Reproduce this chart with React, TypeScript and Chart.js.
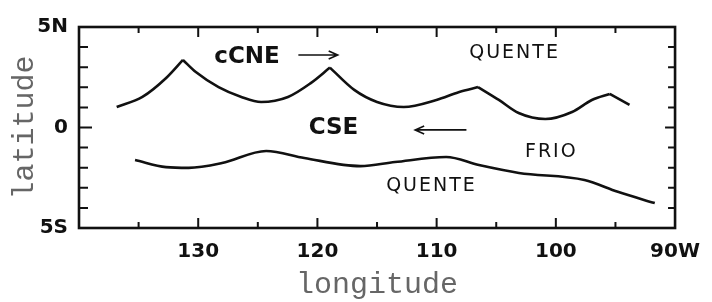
import { useEffect, useRef } from 'react';
import { Chart, registerables } from 'chart.js';

Chart.register(...registerables);

// Upper boundary (cCNE), drawn as scallop arcs that meet at cusps
const cncArc1Lon = [136.84, 134.68, 132.69, 131.28];
const cncArc1Lat = [1.02, 1.52, 2.46, 3.36];
const cncArc2Lon = [131.28, 130.2, 128.29, 126.38, 124.72, 122.47, 120.56, 118.95];
const cncArc2Lat = [3.36, 2.76, 2.01, 1.52, 1.27, 1.52, 2.21, 2.98];
const cncArc3Lon = [118.95, 116.91, 115.0, 112.76, 110.02, 108.1, 106.53];
const cncArc3Lat = [2.98, 1.87, 1.27, 1.02, 1.37, 1.77, 2.01];
const cncArc4Lon = [106.53, 104.78, 103.12, 100.88, 98.64, 96.98, 95.48];
const cncArc4Lat = [2.01, 1.37, 0.72, 0.42, 0.77, 1.37, 1.67];
const cncArc5Lon = [95.48, 93.82];
const cncArc5Lat = [1.67, 1.12];

// Lower boundary (CSE)
const cseLon = [135.3, 132.7, 130.8, 128.0, 124.3, 121.1, 116.4, 113.5, 109.2, 106.45, 103.1, 97.6, 94.8, 91.7];
const cseLat = [-1.62, -1.97, -2.01, -1.77, -1.17, -1.52, -1.92, -1.72, -1.47, -1.87, -2.26, -2.61, -3.2, -3.76];

const xTickValues = [130, 120, 110, 100, 90];
const xTickLabels = ['130', '120', '110', '100', '90W'];
const yTickValues = [5, 0, -5];
const yTickLabels = ['5N', '0', '5S'];
const latTickMarks = [-4, -3, -2, -1, 0, 1, 2, 3, 4];
const lonTickMarks = [135, 130, 125, 120, 115, 110, 105, 100, 95];

const labelTexts = ['cCNE', 'CSE', 'QUENTE', 'FRIO', 'QUENTE'];
const labelLon = [125.9, 118.65, 103.46, 100.38, 110.43];
const labelLat = [3.51, -0.02, 3.71, -1.22, -2.91];
const labelBold = [true, true, false, false, false];

const arrowFromLon = [121.6, 107.5];
const arrowToLon = [118.3, 111.8];
const arrowLat = [3.61, -0.12];

const toPts = (lon: number[], lat: number[]) => lon.map((v, i) => ({ x: v, y: lat[i] }));

const overlay = {
  id: 'overlay',
  afterDatasetsDraw(chart: any) {
    const { ctx, chartArea: a, scales } = chart;
    const x = scales.x;
    const y = scales.y;
    ctx.save();
    ctx.strokeStyle = '#111';
    ctx.lineWidth = 2.6;
    ctx.strokeRect(a.left, a.top, a.right - a.left, a.bottom - a.top);
    ctx.lineWidth = 2;
    ctx.beginPath();
    latTickMarks.forEach((v) => {
      const py = y.getPixelForValue(v);
      const lenL = v === 0 ? 13 : 9;
      const lenR = v === 0 ? 10 : 7;
      ctx.moveTo(a.left, py);
      ctx.lineTo(a.left + lenL, py);
      ctx.moveTo(a.right, py);
      ctx.lineTo(a.right - lenR, py);
    });
    lonTickMarks.forEach((v) => {
      const px = x.getPixelForValue(v);
      const len = v % 10 === 0 ? 10 : 6;
      ctx.moveTo(px, a.top);
      ctx.lineTo(px, a.top + len);
      ctx.moveTo(px, a.bottom);
      ctx.lineTo(px, a.bottom - len);
    });
    ctx.stroke();

    ctx.fillStyle = '#111';
    ctx.textAlign = 'center';
    ctx.textBaseline = 'middle';
    labelTexts.forEach((t, i) => {
      ctx.font = labelBold[i] ? 'bold 23px "DejaVu Sans"' : '19px "DejaVu Sans"';
      (ctx as any).letterSpacing = labelBold[i] ? '0px' : '2px';
      ctx.fillText(t, x.getPixelForValue(labelLon[i]), y.getPixelForValue(labelLat[i]));
    });
    (ctx as any).letterSpacing = '0px';

    ctx.lineWidth = 1.6;
    arrowFromLon.forEach((f, i) => {
      const x0 = x.getPixelForValue(f);
      const x1 = x.getPixelForValue(arrowToLon[i]);
      const py = y.getPixelForValue(arrowLat[i]);
      const dir = Math.sign(x1 - x0);
      ctx.beginPath();
      ctx.moveTo(x0, py);
      ctx.lineTo(x1, py);
      ctx.moveTo(x1 - dir * 9, py - 4);
      ctx.lineTo(x1, py);
      ctx.lineTo(x1 - dir * 9, py + 4);
      ctx.stroke();
    });
    ctx.restore();
  },
};

export default function App() {
  const ref = useRef<HTMLCanvasElement>(null);
  useEffect(() => {
    if (!ref.current) return;
    const line = (lon: number[], lat: number[]) => ({
      data: toPts(lon, lat),
      borderColor: '#111',
      borderWidth: 2.6,
      pointRadius: 0,
      cubicInterpolationMode: 'monotone' as const,
      fill: false,
    });
    const chart = new Chart(ref.current, {
      type: 'line',
      data: {
        datasets: [
          line(cncArc1Lon, cncArc1Lat),
          line(cncArc2Lon, cncArc2Lat),
          line(cncArc3Lon, cncArc3Lat),
          line(cncArc4Lon, cncArc4Lat),
          line(cncArc5Lon, cncArc5Lat),
          line(cseLon, cseLat),
        ],
      },
      options: {
        animation: false,
        responsive: false,
        events: [],
        layout: { padding: { left: 0, top: 27, right: 31, bottom: 0 } },
        plugins: { legend: { display: false }, tooltip: { enabled: false } },
        scales: {
          x: {
            type: 'linear',
            min: 90,
            max: 140,
            reverse: true,
            grid: { display: false, drawTicks: false },
            border: { display: false },
            afterBuildTicks: (s: any) => {
              s.ticks = xTickValues.map((v) => ({ value: v }));
            },
            afterFit: (s: any) => {
              s.height = 74;
            },
            ticks: {
              padding: 12,
              color: '#111',
              font: { family: 'DejaVu Sans', size: 20, weight: 'bold' },
              maxRotation: 0,
              callback: (v: any) => xTickLabels[xTickValues.indexOf(Number(v))] ?? null,
            },
            title: {
              display: true,
              text: 'longitude',
              color: '#666',
              font: { family: 'Liberation Mono', size: 30, lineHeight: 1 },
              padding: { top: 0, bottom: 2 },
            },
          },
          y: {
            type: 'linear',
            min: -5,
            max: 5,
            grid: { display: false, drawTicks: false },
            border: { display: false },
            afterBuildTicks: (s: any) => {
              s.ticks = yTickValues.map((v) => ({ value: v }));
            },
            afterFit: (s: any) => {
              s.width = 79;
            },
            ticks: {
              padding: 11,
              color: '#111',
              font: { family: 'DejaVu Sans', size: 20, weight: 'bold' },
              callback: (v: any) => yTickLabels[yTickValues.indexOf(Number(v))] ?? null,
            },
            title: {
              display: true,
              text: 'latitude',
              color: '#666',
              font: { family: 'Liberation Mono', size: 30, lineHeight: 1 },
              padding: { top: 10, bottom: 0 },
            },
          },
        },
      },
      plugins: [overlay],
    });
    return () => chart.destroy();
  }, []);
  return (
    <div style={{ position: 'absolute', left: 0, top: 0, width: 712, height: 302, background: '#fff' }}>
      <canvas ref={ref} width={712} height={302} />
    </div>
  );
}
